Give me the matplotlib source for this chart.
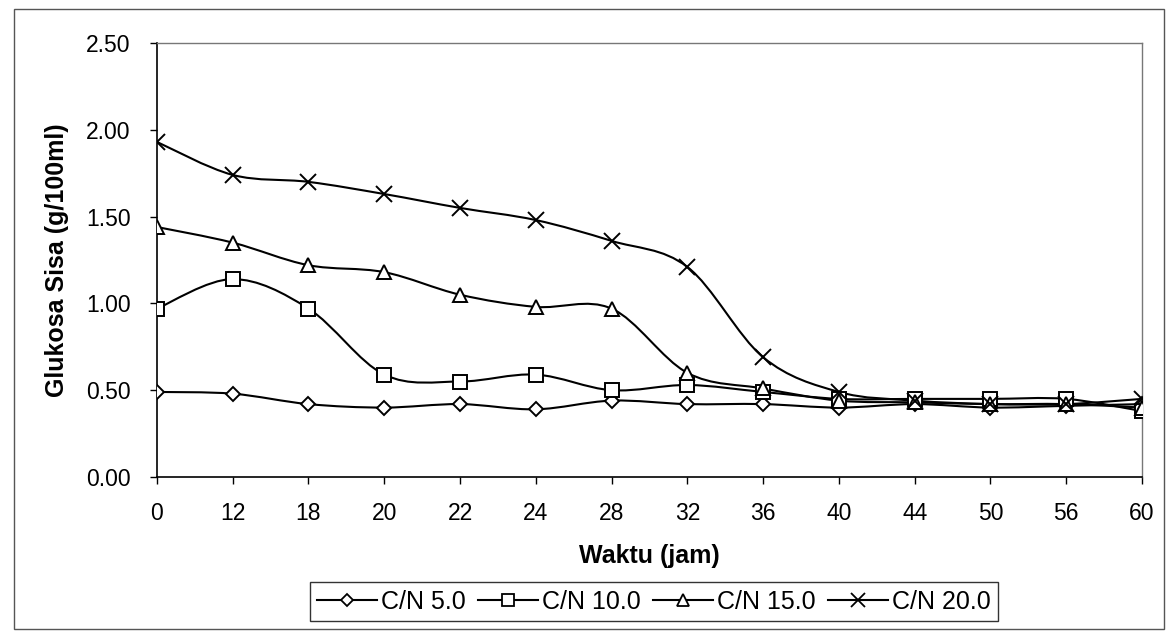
import matplotlib
matplotlib.use("Agg")
import matplotlib.pyplot as plt
from matplotlib.path import Path
from matplotlib.patches import PathPatch, Rectangle
from matplotlib.lines import Line2D
import numpy as np

plt.rcParams['font.family'] = ['Liberation Sans', 'DejaVu Sans']

# data
waktu = ['0', '12', '18', '20', '22', '24', '28', '32', '36', '40', '44', '50', '56', '60']
cn5 = [0.49, 0.48, 0.42, 0.40, 0.42, 0.39, 0.44, 0.42, 0.42, 0.40, 0.42, 0.40, 0.41, 0.42]
cn10 = [0.97, 1.14, 0.97, 0.59, 0.55, 0.59, 0.50, 0.53, 0.49, 0.45, 0.45, 0.45, 0.45, 0.38]
cn15 = [1.44, 1.35, 1.22, 1.18, 1.05, 0.98, 0.97, 0.60, 0.51, 0.44, 0.43, 0.42, 0.42, 0.40]
cn20 = [1.93, 1.74, 1.70, 1.63, 1.55, 1.48, 1.36, 1.21, 0.69, 0.49, 0.44, 0.42, 0.42, 0.45]

series = [
    ('C/N 5.0', cn5, 'D', 7),
    ('C/N 10.0', cn10, 's', 10.5),
    ('C/N 15.0', cn15, '^', 10.5),
    ('C/N 20.0', cn20, 'x', 12),
]


def smooth_path(x, y):
    # Excel-like smoothed line: cubic bezier through points (Catmull-Rom)
    x = np.asarray(x, float)
    y = np.asarray(y, float)
    px = np.concatenate([[x[0]], x, [x[-1]]])
    py = np.concatenate([[y[0]], y, [y[-1]]])
    verts = [(x[0], y[0])]
    codes = [Path.MOVETO]
    for i in range(1, len(x)):
        c1 = (px[i] + (px[i + 1] - px[i - 1]) / 6, py[i] + (py[i + 1] - py[i - 1]) / 6)
        c2 = (px[i + 1] - (px[i + 2] - px[i]) / 6, py[i + 1] - (py[i + 2] - py[i]) / 6)
        verts += [c1, c2, (x[i], y[i])]
        codes += [Path.CURVE4] * 3
    return Path(verts, codes)


fig = plt.figure(figsize=(11.73, 6.34), dpi=100)
fig.patches.append(Rectangle((0.012, 0.008), 0.980, 0.978, transform=fig.transFigure,
                             fill=False, edgecolor='#555555', linewidth=1.0))
ax = fig.add_axes([0.1338, 0.2476, 0.8398, 0.6846])

xs = np.arange(len(waktu))
for name, vals, mk, ms in series:
    ax.add_patch(PathPatch(smooth_path(xs, vals), fill=False, edgecolor='black',
                           linewidth=1.5, zorder=3))
    ax.plot(xs, vals, linestyle='none', marker=mk, markersize=ms,
            markerfacecolor='white', markeredgecolor='black',
            markeredgewidth=1.4, zorder=4)

ax.set_xlim(0, len(waktu) - 1)
ax.set_ylim(0, 2.5)
ax.set_xticks(xs)
ax.set_xticklabels(waktu)
ax.set_yticks([0, 0.5, 1.0, 1.5, 2.0, 2.5])
ax.set_yticklabels(['0.00', '0.50', '1.00', '1.50', '2.00', '2.50'])
ax.tick_params(axis='both', labelsize=16.5, direction='out', length=5, width=1)
ax.tick_params(axis='x', pad=13)
ax.tick_params(axis='y', pad=14)

for s in ['left', 'bottom']:
    ax.spines[s].set_color('black')
    ax.spines[s].set_linewidth(1.2)
for s in ['top', 'right']:
    ax.spines[s].set_color('#777777')
    ax.spines[s].set_linewidth(1.0)

ax.set_xlabel('Waktu (jam)', fontsize=18, fontweight='bold', labelpad=14)
ax.set_ylabel('Glukosa Sisa (g/100ml)', fontsize=18, fontweight='bold', labelpad=12)

handles = [Line2D([], [], color='black', linewidth=1.5, marker=mk, markersize=ms * 0.85,
                  markerfacecolor='white', markeredgecolor='black', markeredgewidth=1.3)
           for _, _, mk, ms in series]
fig.legend(handles, [s[0] for s in series], loc='center', bbox_to_anchor=(0.5575, 0.0505),
           ncol=4, fontsize=18, frameon=True, fancybox=False, edgecolor='black',
           handlelength=2.4, handletextpad=0.15, columnspacing=0.5, borderpad=0.3,
           borderaxespad=0)

fig.savefig('out.png', dpi=100, facecolor='white')
